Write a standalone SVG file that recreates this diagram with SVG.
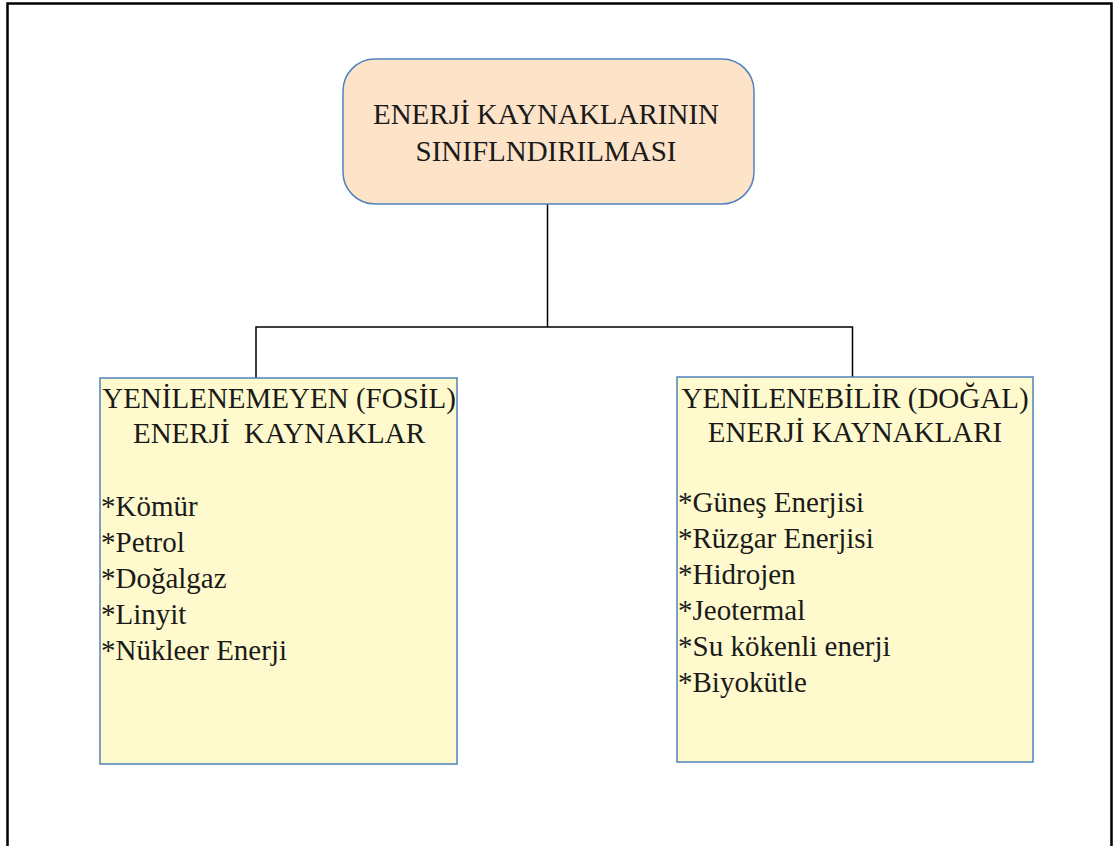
<svg xmlns="http://www.w3.org/2000/svg" width="1117" height="846" viewBox="0 0 1117 846">
<style>
.t{font-family:"Liberation Serif","Times New Roman",serif;font-size:29px;fill:#1a1a1a}
.c{text-anchor:middle}
.box{stroke:#4f81bd;stroke-width:1.5}
.conn{stroke:#000;stroke-width:1.5;fill:none}
</style>
<rect x="0" y="0" width="1117" height="846" fill="#fff"/>
<path d="M7.5 850 V3.5 H1111.5 V850" fill="none" stroke="#000" stroke-width="2.5"/>
<g id="connectors">
<path class="conn" d="M547.5 204 V327"/>
<path class="conn" d="M256 378 V327 H852.5 V377"/>
</g>
<g id="root">
<rect class="box" x="343" y="59" width="411" height="145" rx="32" fill="#fde4c9"/>
<text class="t c" x="546" y="124">ENERJİ KAYNAKLARININ</text>
<text class="t c" x="546" y="161">SINIFLNDIRILMASI</text>
</g>
<g id="fosil">
<rect class="box" x="100" y="378" width="357" height="386" fill="#fffacd"/>
<text class="t c" x="279" y="408">YENİLENEMEYEN (FOSİL)</text>
<text class="t c" x="279" y="443" xml:space="preserve">ENERJİ  KAYNAKLAR</text>
<text class="t" x="101" y="516">*Kömür</text>
<text class="t" x="101" y="552">*Petrol</text>
<text class="t" x="101" y="588">*Doğalgaz</text>
<text class="t" x="101" y="624">*Linyit</text>
<text class="t" x="101" y="660">*Nükleer Enerji</text>
</g>
<g id="dogal">
<rect class="box" x="677" y="377" width="356" height="385" fill="#fffacd"/>
<text class="t c" x="855" y="408">YENİLENEBİLİR (DOĞAL)</text>
<text class="t c" x="855" y="442">ENERJİ KAYNAKLARI</text>
<text class="t" x="678" y="512">*Güneş Enerjisi</text>
<text class="t" x="678" y="548">*Rüzgar Enerjisi</text>
<text class="t" x="678" y="584">*Hidrojen</text>
<text class="t" x="678" y="620">*Jeotermal</text>
<text class="t" x="678" y="656">*Su kökenli enerji</text>
<text class="t" x="678" y="692">*Biyokütle</text>
</g>
</svg>
